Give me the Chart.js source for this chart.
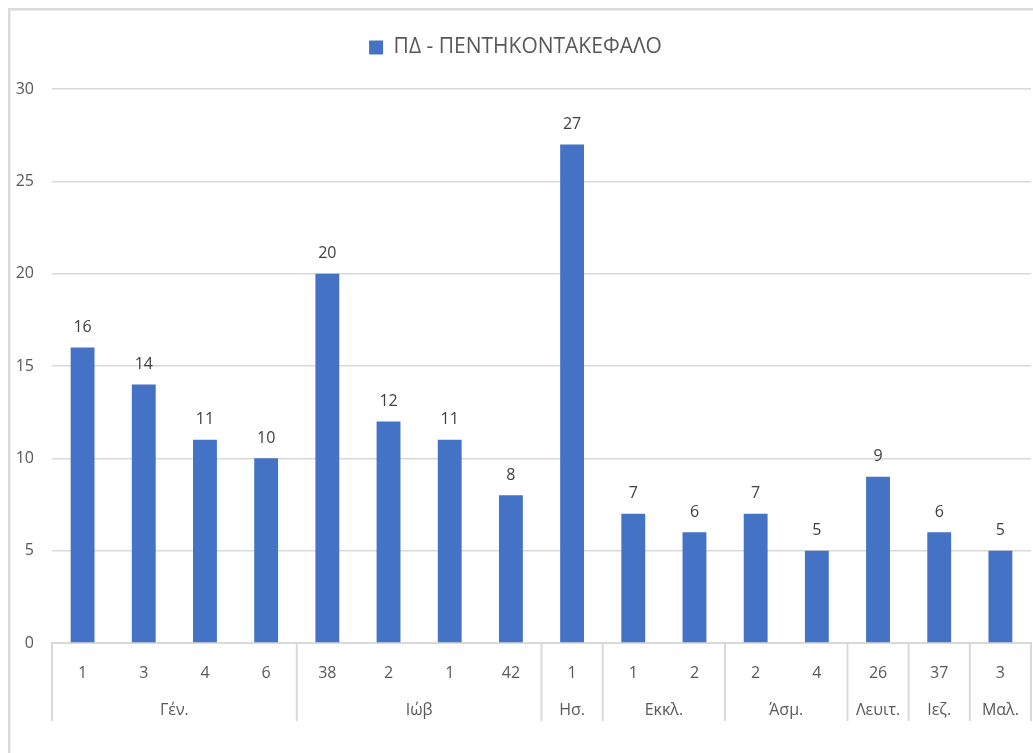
<!DOCTYPE html>
<html lang="el">
<head>
    <meta charset="UTF-8">
    <title>ΠΔ - ΠΕΝΤΗΚΟΝΤΑΚΕΦΑΛΟ</title>
    <script src="https://cdn.jsdelivr.net/npm/chart.js"></script>
    <style>
        body { margin: 0; background: #ffffff; }
        #wrap { width: 1033px; height: 753px; position: relative; }
    </style>
</head>
<body>
    <div id="wrap"><canvas id="chart"></canvas></div>
    <script>
        // Δεδομένα
        const seriesName = 'ΠΔ - ΠΕΝΤΗΚΟΝΤΑΚΕΦΑΛΟ';
        const chapters = ['1', '3', '4', '6', '38', '2', '1', '42', '1', '1', '2', '2', '4', '26', '37', '3'];
        const counts = [16, 14, 11, 10, 20, 12, 11, 8, 27, 7, 6, 7, 5, 9, 6, 5];
        const books = ['Γέν.', 'Ιώβ', 'Ησ.', 'Εκκλ.', 'Άσμ.', 'Λευιτ.', 'Ιεζ.', 'Μαλ.'];
        const bookSizes = [4, 4, 1, 2, 2, 1, 1, 1];
        const yTicks = [0, 5, 10, 15, 20, 25, 30];

        const FONT = '"Open Sans", "Noto Sans", sans-serif';
        const LINE = '#d9d9d9';

        // Πλαίσιο, ομάδες άξονα x και ετικέτες τιμών
        const extras = {
            id: 'extras',
            beforeInit(chart) {
                const fit = chart.legend.fit;
                chart.legend.fit = function () {
                    fit.call(this);
                    this.height += 21;
                };
            },
            beforeDraw(chart) {
                const c = chart.ctx;
                c.save();
                c.fillStyle = LINE;
                c.fillRect(8, 8, chart.width - 8, 2.5);
                c.fillRect(8, 8, 2.5, chart.height - 8);
                c.restore();
            },
            afterDraw(chart) {
                const c = chart.ctx;
                const x = chart.scales.x;
                const area = chart.chartArea;
                c.save();
                // διαχωριστικά και ονόματα βιβλίων
                c.strokeStyle = LINE;
                c.lineWidth = 2;
                c.fillStyle = '#595959';
                c.font = '16px ' + FONT;
                c.textAlign = 'center';
                c.textBaseline = 'middle';
                let start = 0;
                const edge = i => {
                    if (i <= 0) return area.left;
                    if (i >= chapters.length) return area.right;
                    return (x.getPixelForValue(i - 1) + x.getPixelForValue(i)) / 2;
                };
                const sep = px => {
                    c.beginPath();
                    c.moveTo(px, area.bottom);
                    c.lineTo(px, area.bottom + 78);
                    c.stroke();
                };
                sep(edge(0));
                books.forEach((b, k) => {
                    const end = start + bookSizes[k];
                    sep(edge(end));
                    const mid = (x.getPixelForValue(start) + x.getPixelForValue(end - 1)) / 2;
                    c.fillText(b, mid, area.bottom + 67);
                    start = end;
                });
                // τιμές πάνω από τις μπάρες
                c.fillStyle = '#404040';
                const meta = chart.getDatasetMeta(0);
                meta.data.forEach((bar, i) => {
                    c.fillText(String(counts[i]), bar.x, bar.y - 20);
                });
                c.restore();
            }
        };

        new Chart(document.getElementById('chart'), {
            type: 'bar',
            data: {
                labels: chapters,
                datasets: [{
                    label: seriesName,
                    data: counts,
                    backgroundColor: '#4472c4',
                    categoryPercentage: 1,
                    barPercentage: 0.39
                }]
            },
            options: {
                responsive: true,
                maintainAspectRatio: false,
                animation: false,
                layout: { padding: { top: 27, right: 2, bottom: 0, left: 0 } },
                plugins: {
                    tooltip: { enabled: false },
                    legend: {
                        position: 'top',
                        labels: {
                            boxWidth: 14,
                            boxHeight: 14,
                            padding: 10,
                            color: '#595959',
                            font: { family: FONT, size: 21 }
                        }
                    }
                },
                scales: {
                    x: {
                        grid: { display: false },
                        border: { display: true, color: LINE, width: 2 },
                        ticks: {
                            color: '#595959',
                            padding: 13,
                            maxRotation: 0,
                            autoSkip: false,
                            font: { family: FONT, size: 16 }
                        },
                        afterFit(scale) { scale.height = 110; }
                    },
                    y: {
                        min: 0,
                        max: 30,
                        afterBuildTicks(scale) { scale.ticks = yTicks.map(v => ({ value: v })); },
                        grid: { color: LINE, lineWidth: 1.5, drawTicks: false },
                        border: { display: false },
                        ticks: {
                            color: '#595959',
                            padding: 18,
                            font: { family: FONT, size: 16 }
                        },
                        afterFit(scale) { scale.width = 52; }
                    }
                }
            },
            plugins: [extras]
        });
    </script>
</body>
</html>
